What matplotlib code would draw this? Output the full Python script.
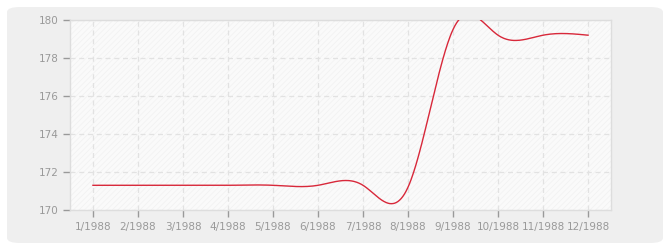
"""Monthly values for 1988, drawn as a smoothed line on a rounded grey card."""
import matplotlib
matplotlib.use("Agg")
import matplotlib.pyplot as plt
import numpy as np
from matplotlib.patches import FancyBboxPatch, Rectangle

months = list(range(1, 13))
month_labels = [f"{m}/1988" for m in months]
values = [171.3, 171.3, 171.3, 171.3, 171.3, 171.3, 171.3, 171.2,
          179.5, 179.2, 179.2, 179.2]
y_ticks = [170, 172, 174, 176, 178, 180]


def natural_spline(x, y, n=600):
    # plain natural cubic spline, no scipy here
    x = np.asarray(x, float)
    y = np.asarray(y, float)
    k = len(x)
    h = np.diff(x)
    a = np.zeros((k, k))
    b = np.zeros(k)
    a[0, 0] = a[-1, -1] = 1.0
    for i in range(1, k - 1):
        a[i, i - 1] = h[i - 1]
        a[i, i] = 2 * (h[i - 1] + h[i])
        a[i, i + 1] = h[i]
        b[i] = 6 * ((y[i + 1] - y[i]) / h[i] - (y[i] - y[i - 1]) / h[i - 1])
    m = np.linalg.solve(a, b)
    xs = np.linspace(x[0], x[-1], n)
    idx = np.clip(np.searchsorted(x, xs) - 1, 0, k - 2)
    x0, x1 = x[idx], x[idx + 1]
    hh = x1 - x0
    t0, t1 = x1 - xs, xs - x0
    ys = (m[idx] * t0 ** 3 + m[idx + 1] * t1 ** 3) / (6 * hh) \
        + (y[idx] / hh - m[idx] * hh / 6) * t0 \
        + (y[idx + 1] / hh - m[idx + 1] * hh / 6) * t1
    return xs, ys


fig = plt.figure(figsize=(6.7, 2.5), dpi=100)
fig.patch.set_facecolor("white")
card = FancyBboxPatch((7 / 670, 7 / 250), 656 / 670, 236 / 250,
                      boxstyle="round,pad=0,rounding_size=0.02",
                      transform=fig.transFigure, facecolor="#efefef",
                      edgecolor="none", zorder=-10)
fig.patches.append(card)

ax = fig.add_axes([70 / 670, 40 / 250, 541 / 670, 190 / 250])
ax.set_facecolor("#fafafa")
plt.rcParams["hatch.linewidth"] = 0.5
ax.add_patch(Rectangle((0, 0), 1, 1, transform=ax.transAxes, facecolor="none",
                       edgecolor="#f1f1f1", hatch="//////", lw=0, zorder=0))

xs, ys = natural_spline(months, values)
ax.plot(xs, ys, color="#d8283a", lw=1.0, zorder=3)

ax.set_xlim(0.49, 12.51)
ax.set_ylim(170, 180)
ax.set_xticks(months)
ax.set_xticklabels(month_labels)
ax.set_yticks(y_ticks)
ax.grid(True, color="#e2e2e2", linestyle=(0, (4, 3)), lw=0.9, zorder=1)
ax.set_axisbelow(True)
for side in ["left", "bottom", "top", "right"]:
    ax.spines[side].set_color("#dddddd")
    ax.spines[side].set_linewidth(1)
ax.tick_params(colors="#999999", labelsize=7.5, length=5, width=1, pad=3)
ax.tick_params(axis="x", pad=3.5)

fig.savefig("out.png", dpi=100)
